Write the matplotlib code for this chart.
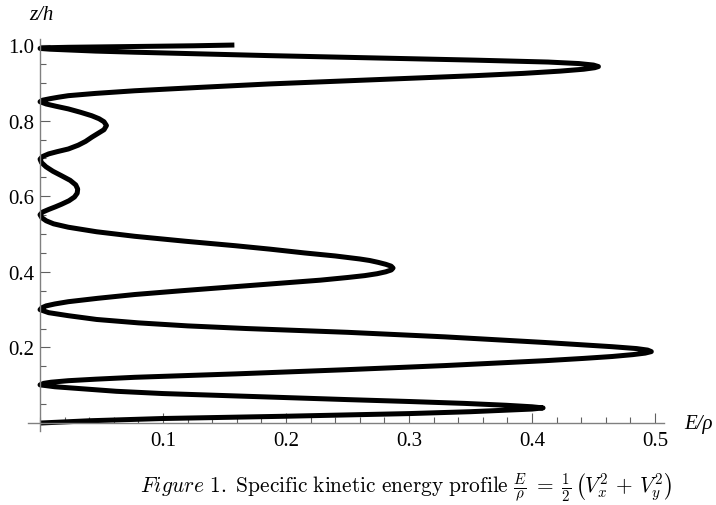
import matplotlib.pyplot as plt
from matplotlib.ticker import MultipleLocator, FixedLocator
import numpy as np

plt.rcParams['mathtext.fontset'] = 'cm'

# profile: height z/h and energy E/rho
z_h = [0.000, 0.006, 0.012, 0.018, 0.025, 0.030, 0.034, 0.037, 0.040, 0.043,
       0.047, 0.052, 0.057, 0.062, 0.067, 0.072, 0.078, 0.084, 0.091, 0.096, 0.101,
       0.105, 0.108, 0.112, 0.116, 0.121, 0.130, 0.141, 0.152, 0.165, 0.171,
       0.176, 0.181, 0.185, 0.189, 0.193, 0.197, 0.202, 0.207, 0.213, 0.220,
       0.228, 0.234, 0.240, 0.245, 0.250, 0.257, 0.265, 0.274, 0.284, 0.292, 0.300,
       0.305, 0.310, 0.315, 0.321, 0.330, 0.340, 0.350, 0.361, 0.370, 0.378,
       0.385, 0.390, 0.395, 0.400, 0.405, 0.410, 0.415, 0.420, 0.425, 0.430,
       0.434, 0.442, 0.450, 0.460, 0.469, 0.481, 0.494, 0.506, 0.518, 0.527,
       0.535, 0.543, 0.551,
       0.558, 0.565, 0.572, 0.579, 0.588, 0.598, 0.608, 0.619, 0.630, 0.642,
       0.654, 0.666, 0.678, 0.689, 0.698,
       0.705, 0.712, 0.718, 0.725, 0.735, 0.745, 0.756, 0.766, 0.776, 0.787,
       0.797, 0.805, 0.813, 0.822, 0.831, 0.838, 0.844, 0.850,
       0.854, 0.858, 0.862, 0.866, 0.872, 0.879, 0.888, 0.897, 0.908, 0.919,
       0.925, 0.931, 0.936, 0.940, 0.943, 0.947, 0.951, 0.955, 0.960, 0.966,
       0.972, 0.977, 0.981, 0.984, 0.987, 0.989, 0.991,
       0.993, 0.994, 0.996, 0.998, 1.000]
e_rho = [0.000, 0.040, 0.100, 0.200, 0.300, 0.350, 0.379, 0.400, 0.409, 0.400,
         0.379, 0.345, 0.300, 0.250, 0.203, 0.155, 0.100, 0.062, 0.033, 0.012, 0.000,
         0.003, 0.009, 0.023, 0.045, 0.077, 0.159, 0.248, 0.329, 0.411, 0.442,
         0.465, 0.482, 0.492, 0.497, 0.494, 0.485, 0.465, 0.441, 0.411, 0.372,
         0.329, 0.290, 0.250, 0.208, 0.168, 0.120, 0.080, 0.046, 0.023, 0.007, 0.000,
         0.0015, 0.005, 0.012, 0.023, 0.047, 0.077, 0.115, 0.159, 0.195, 0.228,
         0.250, 0.264, 0.274, 0.281, 0.2856, 0.287, 0.2855, 0.281, 0.275, 0.268,
         0.260, 0.240, 0.215, 0.187, 0.159, 0.118, 0.077, 0.046, 0.023, 0.011,
         0.005, 0.0015, 0.000,
         0.002, 0.007, 0.0125, 0.0176, 0.0235, 0.028, 0.0302, 0.0306, 0.029, 0.0245,
         0.0176, 0.0105, 0.0048, 0.0012, 0.000,
         0.002, 0.007, 0.014, 0.023, 0.031, 0.037, 0.042, 0.047, 0.052, 0.054,
         0.052, 0.048, 0.042, 0.033, 0.023, 0.013, 0.005, 0.000,
         0.002, 0.008, 0.015, 0.023, 0.045, 0.077, 0.130, 0.186, 0.270, 0.354,
         0.393, 0.423, 0.442, 0.451, 0.454, 0.450, 0.438, 0.413, 0.354, 0.270,
         0.186, 0.125, 0.077, 0.045, 0.023, 0.008, 0.000,
         0.008, 0.023, 0.077, 0.125, 0.158]

x_ticks = [0.1, 0.2, 0.3, 0.4, 0.5]
y_ticks = [0.2, 0.4, 0.6, 0.8, 1.0]

W, H = 716, 506
fig = plt.figure(figsize=(W / 100, H / 100), dpi=100)
ax = fig.add_axes([28 / W, 1 - 431.6 / H, (663.6 - 28) / W, (431.6 - 39.6) / H])
ax.set_xlim(-0.0098, 0.507)
ax.set_ylim(-0.02, 1.017)

ax.plot(e_rho, z_h, color='black', lw=3.6, solid_capstyle='butt', solid_joinstyle='round')

# mathematica style axes through the origin
ax.spines['left'].set_position(('data', 0))
ax.spines['bottom'].set_position(('data', 0))
ax.spines['top'].set_visible(False)
ax.spines['right'].set_visible(False)
for s in ['left', 'bottom']:
    ax.spines[s].set_color('#808080')
    ax.spines[s].set_linewidth(1.0)

ax.xaxis.set_major_locator(FixedLocator(x_ticks))
ax.yaxis.set_major_locator(FixedLocator(y_ticks))
ax.xaxis.set_minor_locator(MultipleLocator(0.02))
ax.yaxis.set_minor_locator(MultipleLocator(0.05))
ax.set_xticklabels([f'{t:.1f}' for t in x_ticks])
ax.set_yticklabels([f'{t:.1f}' for t in y_ticks])
ax.tick_params(which='both', direction='in', color='#606060', width=0.8)
ax.tick_params(which='major', length=7)
ax.tick_params(which='minor', length=4)
ax.tick_params(axis='x', pad=6)
ax.tick_params(axis='y', pad=4)
for lab in ax.get_xticklabels() + ax.get_yticklabels():
    lab.set_fontfamily('Liberation Serif')
    lab.set_fontsize(15)

fig.text(41 / W, 1 - 15 / H, 'z/h', ha='center', va='center', style='italic',
         family='Liberation Serif', fontsize=15)
fig.text(699 / W, 1 - 425 / H, 'E/ρ', ha='center', va='center', style='italic',
         family='Liberation Serif', fontsize=15)

caption = (r'$\mathit{Figure\ 1.}\ \mathrm{Specific\ kinetic\ energy\ profile}\ '
           r'\frac{E}{\rho}\;=\;\frac{1}{2}\,\left(V_x^2\,+\,V_y^2\right)$')
fig.text(406 / W, 1 - 487 / H, caption, ha='center', va='center', fontsize=15.4)

fig.savefig('out.png', dpi=100)
